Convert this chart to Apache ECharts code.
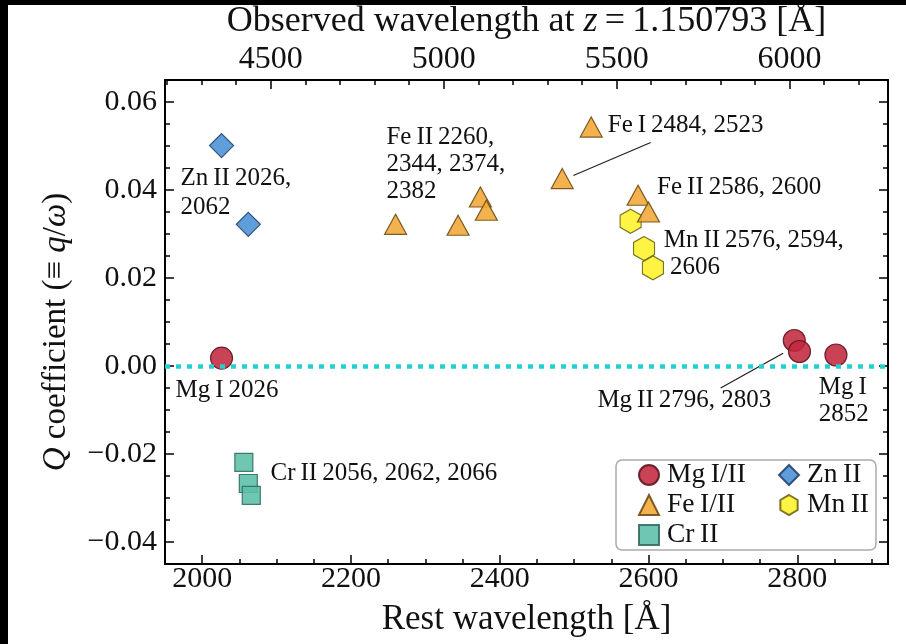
<!DOCTYPE html>
<html>
<head>
<meta charset="utf-8">
<script src="https://cdn.jsdelivr.net/npm/echarts@6/dist/echarts.min.js"></script>
<style>
  html, body { margin: 0; padding: 0; background: #fff; }
  #chart { position: absolute; left: 0; top: 0; width: 906px; height: 644px; }
</style>
</head>
<body>
<div id="chart"></div>
<script>
// Redshift of the absorber: observed = rest * (1 + z)
const REDSHIFT = 1.150793;

// Axis ranges and tick labels
const restRange = [1950, 2922];
const qRange = [-0.045, 0.065];
const restTicks = [2000, 2200, 2400, 2600, 2800];
const obsTicks = [4500, 5000, 5500, 6000];
const qTicks = [-0.04, -0.02, 0.00, 0.02, 0.04, 0.06];

// Q coefficients by ion: [rest wavelength (Å), Q]
const mgData = [[2026, 0.0018], [2796, 0.0058], [2803, 0.0033], [2852, 0.0025]];
const feData = [[2260, 0.0322], [2344, 0.0320], [2374, 0.0384], [2382, 0.0354],
                [2484, 0.0426], [2523, 0.0543], [2586, 0.0388], [2600, 0.0350]];
const crData = [[2056, -0.0219], [2062, -0.0267], [2066, -0.0294]];
const znData = [[2026, 0.0501], [2062, 0.0322]];
const mnData = [[2576, 0.0329], [2594, 0.0267], [2606, 0.0223]];

// Transition labels, placed by their top-left corner in data coordinates
const notes = [
  { at: [1970.8, 0.0459], lh: 29, text: 'Zn\u2009II\u20092026,\n2062' },
  { at: [1964.1, -0.0025], lh: 27, text: 'Mg\u2009I\u20092026' },
  { at: [2091.8, -0.0214], lh: 27, text: 'Cr\u2009II\u20092056, 2062, 2066' },
  { at: [2247.7, 0.0551], lh: 27, text: 'Fe\u2009II\u20092260,\n2344, 2374,\n2382' },
  { at: [2545.2, 0.0577], lh: 27, text: 'Fe\u2009I\u20092484, 2523' },
  { at: [2611.6, 0.0437], lh: 27, text: 'Fe\u2009II\u20092586, 2600' },
  { at: [2620.4, 0.0316], lh: 27, text: 'Mn\u2009II\u20092576, 2594,\n 2606' },
  { at: [2531.3, -0.0047], lh: 27, text: 'Mg\u2009II\u20092796, 2803' },
  { at: [2828.8, -0.0017], lh: 27, text: 'Mg\u2009I\n2852' }
];
// Leader lines from labels to their markers
const leaders = [
  { from: [2499, 0.0433], to: [2603, 0.0508] },
  { from: [2697, -0.0050], to: [2781, 0.0029] }
];

const SERIF = '"Liberation Serif", "DejaVu Serif", serif';
const INK = '#111';

function minorValues(lo, hi, step, skip) {
  const out = [];
  for (let k = Math.ceil(lo / step - 1e-9); k * step <= hi + 1e-9; k++) {
    const v = +(k * step).toFixed(6);
    if (!skip.some(s => Math.abs(s - v) < step / 10)) out.push(v);
  }
  return out;
}

const restMinor = minorValues(restRange[0], restRange[1], 50, restTicks);
const obsRange = [restRange[0] * (1 + REDSHIFT), restRange[1] * (1 + REDSHIFT)];
const obsMinor = minorValues(obsRange[0], obsRange[1], 100, obsTicks);
const qMinor = minorValues(qRange[0], qRange[1], 0.005, qTicks);

const line2 = { color: '#000', width: 2 };
const tickStyle = { color: '#000', width: 1.5 };

function axis(position, range, ticks, len, withLine, label, extra) {
  return Object.assign({
    type: 'value', position, min: range[0], max: range[1],
    axisLine: { show: withLine, onZero: false, lineStyle: line2 },
    axisTick: { show: true, inside: true, length: len, lineStyle: tickStyle, customValues: ticks },
    axisLabel: label ? Object.assign({ customValues: ticks, color: INK, fontFamily: SERIF }, label) : { show: false },
    splitLine: { show: false },
    minorTick: { show: false }
  }, extra || {});
}

const plainFmt = v => String(Math.round(v));
const qFmt = v => (v < 0 ? '\u2212' : '') + Math.abs(v).toFixed(2);

const chart = echarts.init(document.getElementById('chart'), null, { renderer: 'canvas' });

function scatter(name, data, symbol, size, color, edge) {
  return {
    type: 'scatter', name, data, symbol, symbolSize: size,
    xAxisIndex: 0, yAxisIndex: 0, z: 3,
    itemStyle: { color, borderColor: edge, borderWidth: 1.2, opacity: 0.88 },
    emphasis: { disabled: true }
  };
}

const hexagon = 'path://M0,-10L8.66,-5L8.66,5L0,10L-8.66,5L-8.66,-5Z';
const legendText = { fontFamily: SERIF, fontSize: 27.5, color: INK, lineHeight: 27, padding: [0, 0, 0, 3] };

chart.setOption({
  animation: false,
  backgroundColor: '#fff',
  grid: { left: 165, right: 18, top: 80, bottom: 80, containLabel: false, outerBoundsMode: 'none' },
  xAxis: [
    axis('bottom', restRange, restTicks, 9, true, { fontSize: 30, margin: 0, formatter: plainFmt }, {
      name: 'Rest wavelength [Å]', nameLocation: 'middle', nameGap: 38,
      nameTextStyle: { fontFamily: SERIF, fontSize: 35, color: INK }
    }),
    axis('bottom', restRange, restMinor, 5, false, null),
    axis('top', obsRange, obsTicks, 9, true, { fontSize: 32, margin: 4, formatter: plainFmt }, {
      name: 'Observed wavelength at {i|z}\u2009=\u20091.150793 [Å]', nameLocation: 'middle', nameGap: 39,
      nameTextStyle: { fontFamily: SERIF, fontSize: 36, color: INK,
        rich: { i: { fontFamily: SERIF, fontSize: 36, fontStyle: 'italic', color: INK } } }
    }),
    axis('top', obsRange, obsMinor, 5, false, null)
  ],
  yAxis: [
    axis('left', qRange, qTicks, 9, true, { fontSize: 30, margin: 8, formatter: qFmt }, {
      name: '{i|Q} coefficient (≡ {i|q}/{i|ω})', nameLocation: 'middle', nameGap: 92,
      nameTextStyle: { fontFamily: SERIF, fontSize: 33, color: INK, padding: [0, 20, 0, 0],
        rich: { i: { fontFamily: SERIF, fontSize: 33, fontStyle: 'italic', color: INK } } }
    }),
    axis('left', qRange, qMinor, 5, false, null),
    axis('right', qRange, qTicks, 9, true, null),
    axis('right', qRange, qMinor, 5, false, null)
  ],
  legend: [
    {
      orient: 'vertical', left: 638, top: 461, padding: 0, itemGap: 2,
      itemWidth: 20, itemHeight: 20, selectedMode: false, z: 6,
      data: ['Mg\u2009I/II', 'Fe\u2009I/II', 'Cr\u2009II'],
      textStyle: legendText
    },
    {
      orient: 'vertical', left: 778, top: 461, padding: 0, itemGap: 2,
      itemWidth: 20, itemHeight: 20, selectedMode: false, z: 6,
      data: ['Zn\u2009II', 'Mn\u2009II'],
      textStyle: legendText
    }
  ],
  series: [
    {
      type: 'scatter', name: 'zero', data: [], xAxisIndex: 0, yAxisIndex: 0, z: 1,
      markLine: {
        silent: true, symbol: 'none', animation: false,
        label: { show: false },
        lineStyle: { color: '#27cfcf', width: 4.5, type: [5, 6] },
        data: [{ yAxis: 0 }]
      }
    },
    scatter('Mg\u2009I/II', mgData, 'circle', 22, '#c2283f', '#5a1520'),
    scatter('Cr\u2009II', crData, 'rect', 18, '#5bbfa9', '#2f6a5c'),
    scatter('Zn\u2009II', znData, 'diamond', 24, '#4a8fd6', '#22416a'),
    scatter('Mn\u2009II', mnData, hexagon, [21, 24], '#fff12a', '#6a6312'),
    scatter('Fe\u2009I/II', feData, 'triangle', [22, 20], '#f1a735', '#6a4a12')
  ]
});

// Labels, leader lines, the legend frame and the dark page margin
const toPx = v => chart.convertToPixel({ xAxisIndex: 0, yAxisIndex: 0 }, v);
const graphics = [
  {
    type: 'rect', z: 5, silent: true,
    shape: { x: 616, y: 460, width: 260, height: 90, r: 6 },
    style: { fill: 'rgba(255,255,255,0.85)', stroke: '#aaa', lineWidth: 1.5 }
  },
  { type: 'rect', z: 10, silent: true, shape: { x: 0, y: 0, width: 8, height: 644 }, style: { fill: '#000' } },
  { type: 'rect', z: 10, silent: true, shape: { x: 0, y: 0, width: 906, height: 5 }, style: { fill: '#000' } }
];
notes.forEach(n => {
  const p = toPx(n.at);
  graphics.push({
    type: 'text', x: p[0], y: p[1], z: 4, silent: true,
    style: { text: n.text, fontFamily: SERIF, fontSize: 25, fill: INK,
             lineHeight: n.lh, verticalAlign: 'top', align: 'left' }
  });
});
leaders.forEach(l => {
  const a = toPx(l.from), b = toPx(l.to);
  graphics.push({
    type: 'line', z: 4, silent: true,
    shape: { x1: a[0], y1: a[1], x2: b[0], y2: b[1] },
    style: { stroke: '#222', lineWidth: 1.3 }
  });
});
chart.setOption({ graphic: graphics });
</script>
</body>
</html>
